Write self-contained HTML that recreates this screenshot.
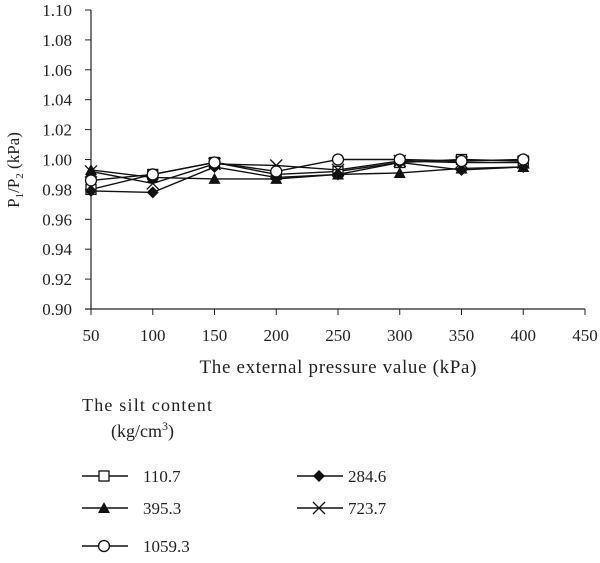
<!DOCTYPE html>
<html><head><meta charset="utf-8"><style>
body{margin:0;background:#fff;}
svg text{font-family:"Liberation Serif",serif;fill:#222;}
</style></head><body>
<svg id="c" width="600" height="558" xmlns="http://www.w3.org/2000/svg"></svg>
<script>
const categories=[50,100,150,200,250,300,350,400];
const s110=[0.980,0.990,0.998,0.990,0.992,0.998,1.000,0.999];
const s284=[0.979,0.978,0.995,0.988,0.990,0.998,0.993,0.995];
const s395=[0.993,0.988,0.987,0.987,0.990,0.991,0.994,0.995];
const s723=[0.992,0.984,0.997,0.996,0.993,0.999,0.998,0.998];
const s1059=[0.986,0.990,0.998,0.992,1.000,1.000,0.999,1.000];
const yTicks=[0.90,0.92,0.94,0.96,0.98,1.00,1.02,1.04,1.06,1.08,1.10];
const xTicks=[50,100,150,200,250,300,350,400,450];
const seriesNames=["110.7","284.6","395.3","723.7","1059.3"];

const NS="http://www.w3.org/2000/svg";
const svg=document.getElementById('c');
const X0=91,X1=585,Y0=309,Y1=10;
const xs=v=>X0+(v-50)/(450-50)*(X1-X0);
const ys=v=>Y0-(v-0.90)/(0.20)*(Y0-Y1);
function el(t,a,p){const e=document.createElementNS(NS,t);for(const k in a)e.setAttribute(k,a[k]);(p||svg).appendChild(e);return e;}
function txt(x,y,s,anchor,size){const t=el('text',{x:x,y:y,'text-anchor':anchor||'start','font-size':size||17});t.textContent=s;return t;}

let a=el('line',{x1:X0,y1:Y1,x2:X0,y2:Y0,stroke:'#222','stroke-width':1.2});

a=el('line',{x1:X0-6,y1:Y0,x2:X1,y2:Y0,stroke:'#222','stroke-width':1.2});

yTicks.forEach(v=>{
  el('line',{x1:X0-6,y1:ys(v),x2:X0,y2:ys(v),stroke:'#222'});
  const t=txt(72,ys(v)+6,v.toFixed(2),'end');
  
});
xTicks.forEach(v=>{
  el('line',{x1:xs(v),y1:Y0,x2:xs(v),y2:Y0+6,stroke:'#222'});
  const t=txt(xs(v),341,String(v),'middle');
  
});
let t=txt(338,373,'The external pressure value (kPa)','middle',19);
t.setAttribute('textLength','277');

t=el('text',{x:0,y:0,'text-anchor':'middle','font-size':17,transform:'translate(19,170) rotate(-90)'});
t.innerHTML='P<tspan font-size="11" dy="4">1</tspan><tspan dy="-4">/P</tspan><tspan font-size="11" dy="4">2</tspan><tspan dy="-4"> (kPa)</tspan>';


function marker(kind,x,y,g){
  const st={stroke:'#111','stroke-width':1.3};
  if(kind==='square')el('rect',Object.assign({x:x-5,y:y-5,width:10,height:10,fill:'#fff'},st),g);
  else if(kind==='diamond')el('polygon',{points:`${x},${y-6} ${x+6},${y} ${x},${y+6} ${x-6},${y}`,fill:'#111'},g);
  else if(kind==='triangle')el('polygon',{points:`${x},${y-6} ${x+6},${y+5} ${x-6},${y+5}`,fill:'#111'},g);
  else if(kind==='x'){el('line',Object.assign({x1:x-6,y1:y-6,x2:x+6,y2:y+6},st),g);el('line',Object.assign({x1:x-6,y1:y+6,x2:x+6,y2:y-6},st),g);}
  else if(kind==='circle')el('circle',Object.assign({cx:x,cy:y,r:5.5,fill:'#fff'},st),g);
}
const series=[[s110,'square'],[s284,'diamond'],[s395,'triangle'],[s723,'x'],[s1059,'circle']];
series.forEach(([data,kind],i)=>{
  const g=el('g',{});
  
  
  el('polyline',{points:data.map((v,j)=>xs(categories[j])+','+ys(v)).join(' '),fill:'none',stroke:'#111','stroke-width':1.4},g);
  data.forEach((v,j)=>marker(kind,xs(categories[j]),ys(v),g));
});

t=txt(82,411,'The silt content','start',18);
t.setAttribute('textLength','130');

t=el('text',{x:111,y:437,'font-size':18});
t.innerHTML='(kg/cm<tspan font-size="12" dy="-7">3</tspan><tspan dy="7">)</tspan>';

const legPos=[[82,476,143],[297,476,348],[82,508,143],[297,508,348],[82,546,143]];
series.forEach(([data,kind],i)=>{
  const [lx,ly,tx]=legPos[i];
  const g=el('g',{});
  
  
  el('line',{x1:lx,y1:ly,x2:lx+46,y2:ly,stroke:'#111','stroke-width':1.4},g);
  marker(kind,lx+22,ly,g);
  const tt=el('text',{x:tx,y:ly+6,'font-size':17},g);tt.textContent=seriesNames[i];
});
</script>
</body></html>
